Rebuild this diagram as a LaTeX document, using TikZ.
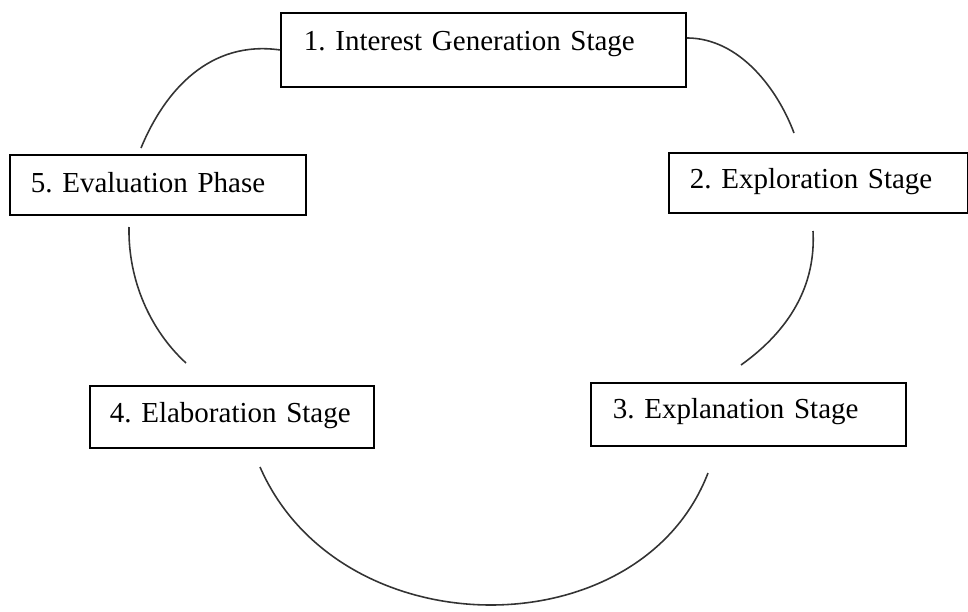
\documentclass[tikz,border=0pt]{standalone}
\usepackage{fontspec}
\setmainfont{Liberation Serif}
\frenchspacing
\begin{document}
\begin{tikzpicture}[x=0.02cm,y=-0.02cm,
  stagebox/.style={draw,line width=1.1pt,anchor=north west,align=left,inner xsep=0pt,inner ysep=0pt,
    font=\fontsize{16.5}{20}\selectfont},
  pad/.style={execute at begin node={\hspace*{#1}}},
  cycleline/.style={line width=0.9pt,black!80}]

% Page frame
\useasboundingbox (0,0) rectangle (968,612);

% Stage boxes
\node[stagebox,pad=0.46cm,text width=8.10cm,text height=0.76cm,text depth=0.72cm] (interest) at (280,12) {1. Interest Generation Stage};
\node[stagebox,pad=0.42cm,text width=5.98cm,text height=0.72cm,text depth=0.48cm] (explore) at (668,152) {2. Exploration Stage};
\node[stagebox,pad=0.44cm,text width=6.30cm,text height=0.72cm,text depth=0.54cm] (explain) at (590,382) {3. Explanation Stage};
\node[stagebox,pad=0.40cm,text width=5.68cm,text height=0.74cm,text depth=0.50cm] (elab) at (89,385) {4. Elaboration Stage};
\node[stagebox,pad=0.42cm,text width=5.92cm,text height=0.76cm,text depth=0.44cm] (eval) at (9,154) {5. Evaluation Phase};

% Free ends of the arcs
\coordinate (a1) at (141,148);
\coordinate (b1) at (794,133);
\coordinate (c0) at (129,227);
\coordinate (c1) at (186,363);
\coordinate (d0) at (813,231);
\coordinate (d1) at (741,365);
\coordinate (e0) at (260,467);
\coordinate (e1) at (708,473);

% Draw cycle arcs
\draw[cycleline] (interest.west) .. controls (210,40) and (165,90) .. (a1);
\draw[cycleline] ([yshift=0.24cm]interest.east) .. controls (740,38) and (778,90) .. (b1);
\draw[cycleline] (c0) .. controls (128,280) and (150,330) .. (c1);
\draw[cycleline] (d0) .. controls (816,285) and (790,330) .. (d1);
\draw[cycleline] (e0) .. controls (340,650) and (640,650) .. (e1);

\end{tikzpicture}
\end{document}
